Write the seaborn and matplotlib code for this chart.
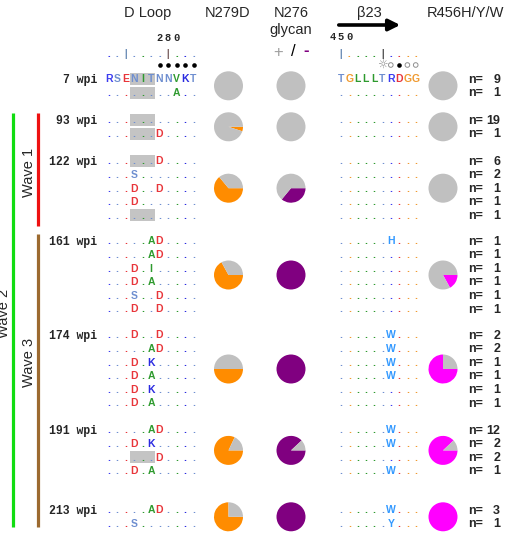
import matplotlib
matplotlib.use("Agg")
import matplotlib.pyplot as plt
import seaborn as sns

# --- data ---
groups = ["7 wpi", "93 wpi", "122 wpi", "161 wpi", "174 wpi", "191 wpi", "213 wpi"]

dloop_ref = "RSENITNNVKT"
b23_ref = "TGLLLTRDGG"

dloop_rows = [
    ["RSENITNNVKT", "........A.."],
    ["...........", "......D...."],
    ["......D....", "...S.......", "...D..D....", "...D.......", "..........."],
    [".....AD....", ".....AD....", "...D.I.....", "...D.A.....", "...S..D....", "...D..D...."],
    ["...D..D....", ".....AD....", "...D.K.....", "...D.A.....", "...D.K.....", "...D.A....."],
    [".....AD....", "...D.K.....", "......D....", "...D.A....."],
    [".....AD....", "...S......."],
]
b23_rows = [
    ["TGLLLTRDGG", ".........."],
    ["..........", ".........."],
    [".........."] * 5,
    ["......H...", "..........", "..........", "..........", "..........", ".........."],
    ["......W...", "......W...", "......W...", "......W...", "..........", ".........."],
    ["......W...", "......W...", "..........", "......W..."],
    ["......W...", "......Y..."],
]
counts = [
    [9, 1],
    [19, 1],
    [6, 2, 1, 1, 1],
    [1, 1, 1, 1, 1, 1],
    [2, 2, 1, 1, 1, 1],
    [12, 2, 2, 1],
    [3, 1],
]
# fraction of each pie that is coloured
n279d_frac = [0.0, 0.05, 0.64, 0.67, 0.50, 0.82, 0.75]
glycan_loss_frac = [0.0, 0.0, 0.36, 1.0, 1.0, 0.88, 1.0]
r456_frac = [0.0, 0.0, 0.0, 0.17, 0.75, 0.88, 1.0]

res_color = {
    "R": "#3c3cf0", "K": "#2a2ae0", "S": "#6f8fd0", "T": "#6f8fd0", "N": "#6f8fd0",
    "E": "#e8353a", "D": "#e8353a", "I": "#2e9a2e", "V": "#2e9a2e", "A": "#2e9a2e",
    "L": "#2e9a2e", "G": "#f09a30", "H": "#3399ff", "W": "#3399ff", "Y": "#3399ff",
}
GRAY, ORANGE, PURPLE, MAGENTA = "#c0c0c0", "#ff8c00", "#800080", "#ff00ff"

sns.set_theme(style="white")
plt.rcParams["font.family"] = ["Liberation Sans", "DejaVu Sans"]
MONO = "Liberation Mono"

fig = plt.figure(figsize=(5.15, 5.36), dpi=100)
ax = fig.add_axes([0, 0, 1, 1])

# layout (pixel coordinates, y downwards)
first_row_y = [79, 120, 161, 241, 335, 430, 510]
step = 13.6
dl_x0, dl_dx = 108.5, 8.5
b_x0, b_dx = 341, 8.3
pie_x = [228.5, 291, 443]
R = 14.5


def draw_seq(x0, dx, yc, seq, ref):
    for i, ch in enumerate(seq):
        col = res_color[ref[i]] if ch == "." else res_color[ch]
        ax.text(x0 + i * dx, yc + 3.4, ch, color=col, ha="center", va="baseline",
                fontsize=7.5, fontweight="bold", zorder=3)


for g, label in enumerate(groups):
    ys = [first_row_y[g] + k * step for k in range(len(counts[g]))]
    ax.text(97, ys[0] + 3.7, label, ha="right", va="baseline", fontsize=8.3,
            fontweight="bold", family=MONO)
    for k, yc in enumerate(ys):
        row = dloop_rows[g][k]
        # grey box where the N276 sequon (NIT) is intact
        if row[3] in ".N" and row[5] in ".T":
            ax.add_patch(plt.Rectangle((dl_x0 + 2.5 * dl_dx, yc - 6), 3 * dl_dx, 12,
                                       color="#c4c4c4", lw=0, zorder=1))
        draw_seq(dl_x0, dl_dx, yc, row, dloop_ref)
        draw_seq(b_x0, b_dx, yc, b23_rows[g][k], b23_ref)
        ax.text(468, yc + 3.6, "n=", ha="left", va="baseline", fontsize=9, fontweight="bold")
        ax.text(500, yc + 3.6, str(counts[g][k]), ha="right", va="baseline",
                fontsize=9, fontweight="bold")
    yp = sum(ys) / len(ys)
    for px, f, c in zip(pie_x, [n279d_frac[g], glycan_loss_frac[g], r456_frac[g]],
                        [ORANGE, PURPLE, MAGENTA]):
        ax.pie([f, 1 - f], colors=[c, GRAY], center=(px, yp), radius=R,
               startangle=0, counterclock=True, wedgeprops=dict(linewidth=0))

# headers
for txt, x in [("D Loop", 148), ("N279D", 228), ("N276", 291), ("\u03b223", 369),
               ("R456H/Y/W", 465)]:
    ax.text(x, 13, txt, ha="center", va="center", fontsize=10.5)
ax.text(291, 30, "glycan", ha="center", va="center", fontsize=10.5)
ax.text(278, 52, "+", ha="center", va="center", fontsize=12, color="#a0a0a0")
ax.text(293, 52, "/", ha="center", va="center", fontsize=12, color="black")
ax.text(306, 51, "-", ha="center", va="center", fontsize=12, color=PURPLE, fontweight="bold")
ax.annotate("", xy=(403, 25), xytext=(336, 25),
            arrowprops=dict(arrowstyle="-|>", lw=2.6, color="black", mutation_scale=17))

# numbering rows
for i, d in zip([6, 7, 8], "280"):
    ax.text(dl_x0 + i * dl_dx, 38, d, ha="center", va="center", fontsize=7.5,
            fontweight="bold", family=MONO)
for i, d in zip([-1, 0, 1], "450"):
    ax.text(b_x0 + i * b_dx, 37, d, ha="center", va="center", fontsize=7.5,
            fontweight="bold", family=MONO)
for i, ch in enumerate("..|....|..."):
    col = "#806868" if i == 7 else ("#7090b8" if ch == "|" else res_color[dloop_ref[i]])
    ax.text(dl_x0 + i * dl_dx, 57, ch, ha="center", va="baseline", fontsize=8,
            fontweight="bold", family=MONO, color=col)
for i, ch in enumerate("|....|...."):
    col = "#5a5a5a" if i == 5 else ("#7090b8" if ch == "|" else res_color[b23_ref[i]])
    ax.text(b_x0 + i * b_dx, 57, ch, ha="center", va="baseline", fontsize=8,
            fontweight="bold", family=MONO, color=col)
ax.scatter([dl_x0 + i * dl_dx for i in range(6, 11)], [65] * 5, s=11, color="black", lw=0)
ax.text(b_x0 + 5 * b_dx, 65, "\u263c", ha="center", va="center", fontsize=8.5,
        color="#909090", family=["DejaVu Sans"])
ax.scatter([b_x0 + i * b_dx for i in (6, 8, 9)], [65] * 3, s=11, facecolors="none",
           edgecolors="#909090", lw=0.7)
ax.scatter([b_x0 + 7 * b_dx], [65], s=11, color="black", lw=0)

# wave bars
ax.plot([13, 13], [113, 527], color="#11dd11", lw=2.3, solid_capstyle="butt")
ax.plot([38, 38], [113, 226], color="#ee1111", lw=2.3, solid_capstyle="butt")
ax.plot([38, 38], [234, 527], color="#9c6a30", lw=2.3, solid_capstyle="butt")
ax.text(4, 313, "Wave 2", rotation=90, ha="center", va="center", fontsize=10.5)
ax.text(29, 172, "Wave 1", rotation=90, ha="center", va="center", fontsize=10.5)
ax.text(29, 362, "Wave 3", rotation=90, ha="center", va="center", fontsize=10.5)

ax.set_xlim(0, 515)
ax.set_ylim(536, 0)
ax.axis("off")
fig.savefig("out.png", dpi=100)
